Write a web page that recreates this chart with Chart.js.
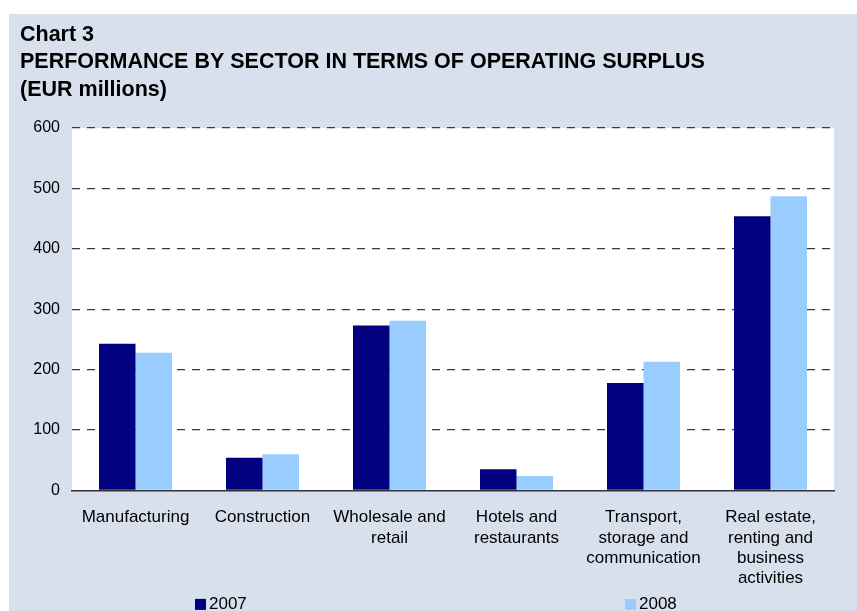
<!DOCTYPE html>
<html>
<head>
<meta charset="utf-8">
<title>Chart 3</title>
<script src="https://cdn.jsdelivr.net/npm/chart.js@4.4.1/dist/chart.umd.min.js"></script>
<style>
  html, body { margin: 0; padding: 0; background: #fff; }
  #wrap { position: absolute; left: 9px; top: 14px; width: 848px; height: 597px; background: #d9e0ed; }
</style>
</head>
<body>
<div id="wrap"><canvas id="chart3" width="848" height="597"></canvas></div>
<script>
// data (EUR millions)
const sectors = [
  'Manufacturing',
  'Construction',
  ['Wholesale and', 'retail'],
  ['Hotels and', 'restaurants'],
  ['Transport,', 'storage and', 'communication'],
  ['Real estate,', 'renting and', 'business', 'activities']
];
const years = ['2007', '2008'];
const surplus2007 = [243, 54, 273, 35, 178, 454];
const surplus2008 = [228, 60, 281, 24, 213, 487];
const yMin = 0;
const yMax = 600;
const yStep = 100;

const FONT = '"Liberation Sans", Arial, sans-serif';
Chart.defaults.font.family = FONT;
Chart.defaults.color = '#000';

// white plot area on the grey-blue panel
const plotBackground = {
  id: 'plotBackground',
  beforeDraw(chart) {
    const { ctx, chartArea } = chart;
    ctx.save();
    ctx.fillStyle = '#ffffff';
    ctx.fillRect(chartArea.left, chartArea.top, chartArea.width, chartArea.height);
    ctx.restore();
  }
};

// legend items spread far apart under the axis, like the original
const yearLegend = {
  id: 'yearLegend',
  afterDraw(chart) {
    const { ctx, chartArea } = chart;
    const spots = [0.1614, 0.7257];
    const y = chartArea.bottom + 114;
    ctx.save();
    ctx.font = '17px ' + FONT;
    ctx.textBaseline = 'middle';
    ctx.textAlign = 'left';
    chart.data.datasets.forEach((ds, i) => {
      const x = chartArea.left + chartArea.width * spots[i];
      ctx.fillStyle = ds.backgroundColor;
      ctx.fillRect(x, y - 5.5, 11, 11);
      ctx.fillStyle = '#000';
      ctx.fillText(ds.label, x + 14, y);
    });
    ctx.restore();
  }
};

const chart3 = new Chart(document.getElementById('chart3'), {
  type: 'bar',
  data: {
    labels: sectors,
    datasets: [
      { label: years[0], data: surplus2007, backgroundColor: '#000080', borderWidth: 0 },
      { label: years[1], data: surplus2008, backgroundColor: '#99ccff', borderWidth: 0 }
    ]
  },
  options: {
    responsive: false,
    animation: false,
    categoryPercentage: 0.575,
    barPercentage: 1,
    layout: { padding: { left: 11, right: 23, top: 0, bottom: 5 } },
    plugins: {
      legend: { display: false },
      tooltip: { enabled: false },
      title: {
        display: true,
        align: 'start',
        color: '#000',
        text: ['Chart 3', 'PERFORMANCE BY SECTOR IN TERMS OF OPERATING SURPLUS', '(EUR millions)'],
        font: { family: FONT, size: 21.5, weight: 'bold', lineHeight: 1.28 },
        padding: { top: 7, bottom: 24.5 }
      }
    },
    scales: {
      x: {
        grid: { display: false, drawTicks: false },
        border: { display: true, color: '#333333', width: 1.5 },
        ticks: { font: { size: 17, lineHeight: 1.2 }, color: '#000', padding: 17, maxRotation: 0, autoSkip: false }
      },
      y: {
        min: yMin,
        max: yMax,
        afterFit(scale) { scale.width = 52; },
        grid: {
          drawTicks: false,
          color: (c) => (c.tick && c.tick.value === 0 ? 'rgba(0,0,0,0)' : '#3a3a3a'),
          lineWidth: 1.2
        },
        border: { display: false, dash: [8, 7] },
        ticks: { stepSize: yStep, font: { size: 16 }, color: '#000', padding: 12 }
      }
    }
  },
  plugins: [plotBackground, yearLegend]
});
</script>
</body>
</html>
